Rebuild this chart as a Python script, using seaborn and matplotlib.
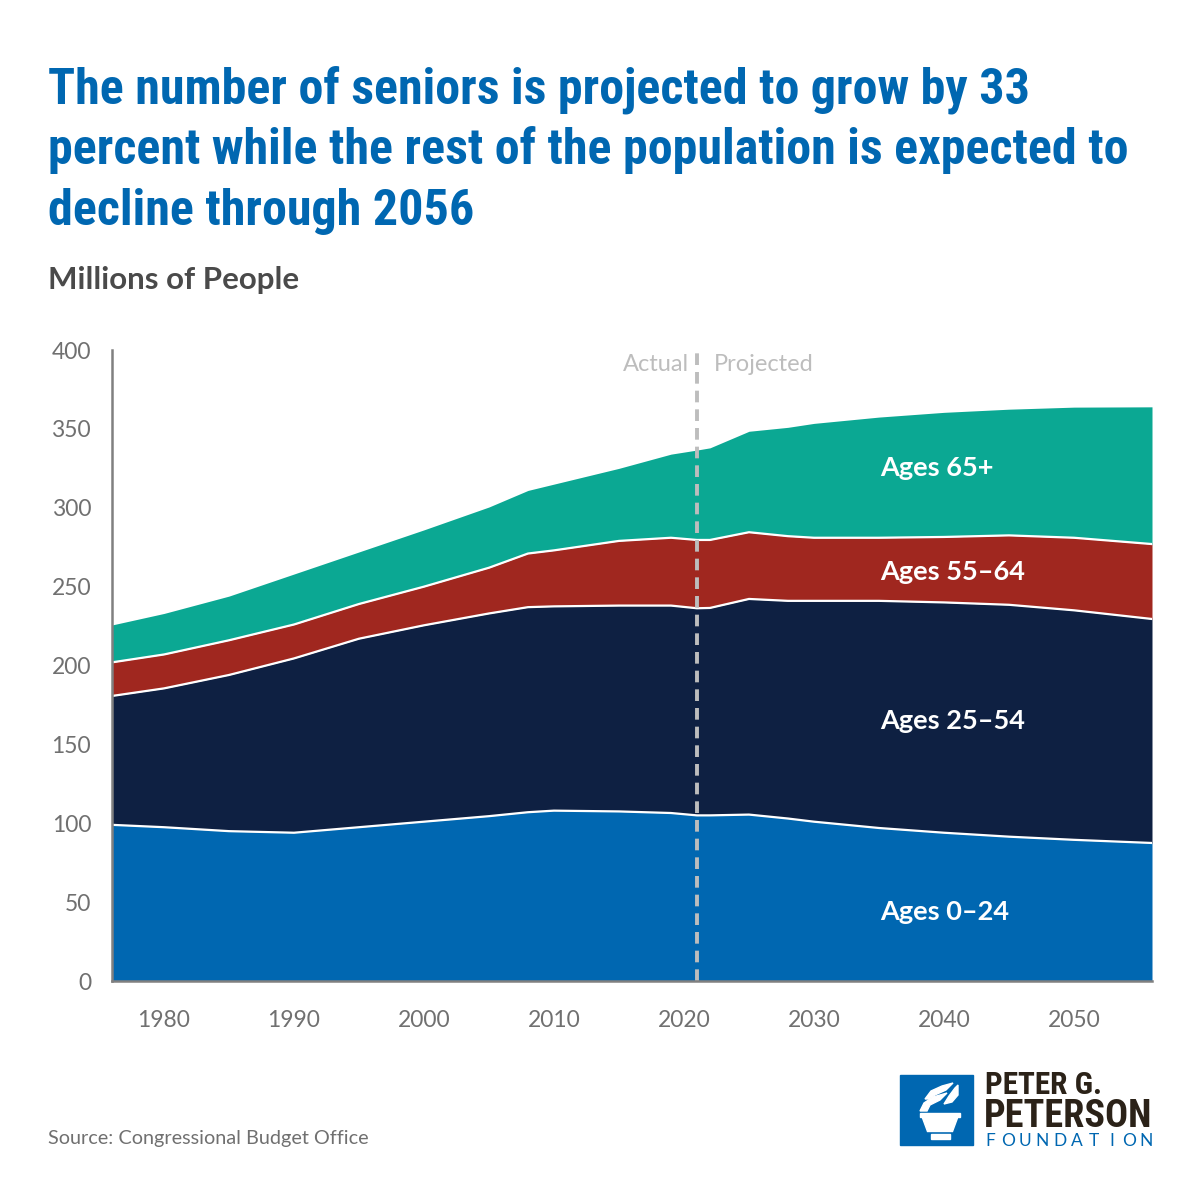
import matplotlib
matplotlib.use('Agg')
import matplotlib.pyplot as plt
from matplotlib.patches import Rectangle, Polygon
import seaborn as sns
import numpy as np

years = [1976, 1980, 1985, 1990, 1995, 2000, 2005, 2008, 2010, 2015, 2019,
         2021, 2022, 2025, 2028, 2030, 2035, 2040, 2045, 2050, 2056]
ages_0_24 = [99.0, 97.5, 95.0, 94.0, 97.5, 101.0, 104.5, 107.0, 108.0, 107.5, 106.5,
             105.0, 105.0, 105.5, 103.0, 101.0, 97.0, 94.0, 91.5, 89.5, 87.5]
ages_25_54 = [81.7, 88.0, 99.0, 110.5, 119.5, 124.5, 128.5, 130.0, 129.5, 130.5, 131.5,
              131.3, 131.5, 136.7, 138.0, 140.0, 144.0, 146.0, 147.0, 145.5, 142.0]
ages_55_64 = [21.3, 21.5, 22.0, 21.5, 22.0, 24.5, 29.0, 34.0, 35.5, 41.0, 43.0,
              43.3, 43.1, 42.3, 41.0, 40.0, 40.0, 41.5, 44.0, 46.0, 47.5]
ages_65 = [23.7, 26.0, 28.0, 32.0, 33.0, 36.0, 38.5, 40.0, 42.0, 46.0, 53.0,
           57.0, 58.4, 64.0, 69.0, 72.5, 76.5, 79.0, 80.0, 82.8, 87.0]

labels = ['Ages 0\u201324', 'Ages 25\u201354', 'Ages 55\u201364', 'Ages 65+']
colors = ['#0067B1', '#0E2042', '#A0271F', '#0BA893']
label_y = [43.7, 164.8, 259.3, 325.2]

sns.set_theme(style='white')
plt.rcParams['font.family'] = ['Lato', 'DejaVu Sans']
cond = ['Roboto Condensed', 'Lato']

fig = plt.figure(figsize=(12, 12), dpi=100)
ax = fig.add_axes([0.0933, 0.1825, 0.8667, 0.5258])

series = [ages_0_24, ages_25_54, ages_55_64, ages_65]
ax.stackplot(years, *series, colors=colors, linewidth=0)
cum = np.cumsum(series, axis=0)
for c in cum[:3]:
    sns.lineplot(x=years, y=c, color='white', linewidth=1.6, ax=ax)

for lab, ly in zip(labels, label_y):
    ax.text(2035.1, ly, lab, color='white', fontsize=19.5, fontweight='bold',
            va='center', ha='left')

ax.axvline(2021, color='#BDBDBD', linewidth=2.8, dashes=(3, 1.8))
ax.text(2020.4, 391, 'Actual', color='#BDBDBD', fontsize=17, ha='right', va='center')
ax.text(2022.3, 391, 'Projected', color='#BDBDBD', fontsize=17, ha='left', va='center')

ax.set_xlim(1976, 2056)
ax.set_ylim(0, 400)
ax.set_xticks(range(1980, 2051, 10))
ax.set_yticks(range(0, 401, 50))
for s in ['top', 'right']:
    ax.spines[s].set_visible(False)
for s in ['left', 'bottom']:
    ax.spines[s].set_color('#808080')
    ax.spines[s].set_linewidth(1.8)
ax.tick_params(axis='both', direction='out', length=8, width=1.5, color='#808080',
               labelcolor='#707070', labelsize=16.5)
ax.tick_params(axis='x', length=10, pad=11)
ax.tick_params(axis='y', pad=7)
ax.set_xlabel('')
ax.set_ylabel('')
ax.margins(0)

title_lines = ['The number of seniors is projected to grow by 33',
               'percent while the rest of the population is expected to',
               'decline through 2056']
for i, line in enumerate(title_lines):
    fig.text(0.04, 1 - (103 + 61 * i) / 1200, line, color='#0067B1', fontsize=36,
             fontweight='bold', family=cond, va='baseline', ha='left')

fig.text(0.04, 1 - 289 / 1200, 'Millions of People', color='#4A4A4A', fontsize=22.5,
         fontweight='bold', va='baseline', ha='left')
fig.text(0.04, 1 - 1144 / 1200, 'Source: Congressional Budget Office', color='#707070',
         fontsize=14.3, va='baseline', ha='left')

# logo
def px(points):
    return [(x / 1200, 1 - y / 1200) for x, y in points]

fig.patches.append(Rectangle((900 / 1200, 1 - 1145 / 1200), 73 / 1200, 70 / 1200,
                             transform=fig.transFigure, color='#0067B1'))
torch = [
    [(920, 1112.5), (960, 1112.5), (960, 1116.5), (920, 1116.5)],
    [(922.5, 1118), (957.5, 1118), (952.5, 1131.5), (927.5, 1131.5)],
    [(931, 1133.5), (950, 1133.5), (950, 1138.5), (931, 1138.5)],
    [(920, 1111), (924, 1103), (933, 1097), (947, 1093), (940, 1100), (930, 1105), (927, 1111)],
    [(925, 1099), (931, 1091), (942, 1086), (953, 1083), (946, 1090), (935, 1095), (929, 1099)],
    [(944, 1104), (949, 1096), (955, 1088), (958, 1085), (958, 1095), (952, 1102)],
]
for shape in torch:
    fig.patches.append(Polygon(px(shape), closed=True, transform=fig.transFigure,
                               color='white'))
fig.text(985 / 1200, 1 - 1094 / 1200, 'PETER G.', color='#2B2218', fontsize=22.5,
         fontweight='bold', family=cond, va='baseline')
fig.text(984 / 1200, 1 - 1127 / 1200, 'PETERSON', color='#2B2218', fontsize=27.5,
         fontweight='bold', family=cond, va='baseline')
for i, ch in enumerate('FOUNDATION'):
    fig.text((990.5 + i * 17.3) / 1200, 1 - 1146 / 1200, ch, color='#0067B1',
             fontsize=12.5, ha='center', va='baseline')

fig.savefig('out.png', dpi=100, facecolor='white')
